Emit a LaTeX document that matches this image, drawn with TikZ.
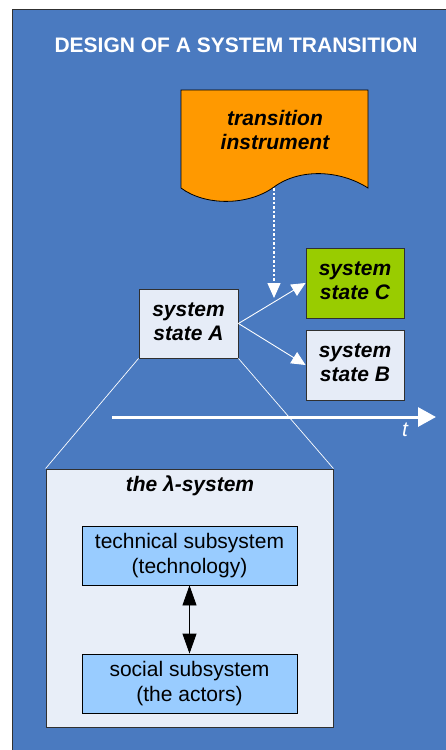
\documentclass[tikz,border=0pt]{standalone}
\usepackage{fontspec}
\setmainfont{Liberation Sans}
\usetikzlibrary{arrows.meta}
\definecolor{panelblue}{HTML}{4A7AC0}
\definecolor{statefill}{HTML}{E6ECF7}
\definecolor{lamfill}{HTML}{E8EEF8}
\definecolor{subfill}{HTML}{99CCFF}
\definecolor{greenfill}{HTML}{99CC00}
\definecolor{orangefill}{HTML}{FF9900}
\definecolor{edgegray}{HTML}{303030}
\begin{document}
\begin{tikzpicture}[x=1pt,y=-1pt,
  statebox/.style={draw=edgegray,line width=0.9pt,fill=statefill,minimum width=99pt,minimum height=69pt,inner sep=0pt,align=center,font=\fontsize{21}{24}\selectfont\bfseries\itshape},
  subbox/.style={draw=black,line width=0.8pt,fill=subfill,minimum width=215pt,minimum height=59pt,inner sep=0pt,align=center,font=\fontsize{21}{25}\selectfont},
  whitearrow/.style={draw=white,line width=0.9pt,-{Triangle[length=14pt,width=13pt]}},
  zoomline/.style={draw=white,line width=0.7pt}
]
\useasboundingbox (0,0) rectangle (446,750);
% panel
\fill[white] (0,0) rectangle (446,750);
\draw[fill=panelblue,draw=edgegray,line width=0.8pt] (12,9) rectangle (470,770);
% title
\node[text=white,font=\fontsize{21}{24}\selectfont\bfseries] (title) at (236,45) {DESIGN OF A SYSTEM TRANSITION};
% document shape
\draw[fill=orangefill,draw=black,line width=0.8pt] (181,90) -- (368,90) -- (368,188)
  .. controls (340,170) and (300,168) .. (274,187)
  .. controls (248,206) and (205,206) .. (181,188) -- cycle;
\node[align=center,font=\fontsize{21}{24}\selectfont\bfseries\itshape] (instr) at (275,130) {transition\\instrument};
\coordinate (docwave) at (274,188);
\coordinate (dottip) at (274,298);
% states
\node[statebox] (A) at (188.5,323.5) {system\\state A\rule[-4pt]{0pt}{0pt}};
\node[statebox,fill=greenfill,minimum width=98pt,minimum height=70pt] (C) at (355,283) {system\\state C\rule[-4pt]{0pt}{0pt}};
\node[statebox,minimum width=98pt,minimum height=70pt] (B) at (355,365) {system\\state B\rule[-4pt]{0pt}{0pt}};
\draw[whitearrow] (A.east) -- (C.west);
\draw[whitearrow] (A.east) -- (B.west);
\draw[draw=white,line width=1.4pt,dash pattern=on 2.5pt off 2pt,-{Triangle[length=15pt,width=13pt,fill=white]}] (docwave) -- (dottip);
% time axis
\coordinate (tstart) at (112,417);
\coordinate (tend) at (436,417);
\draw[draw=white,line width=3pt,-{Triangle[length=18pt,width=19pt]}] (tstart) -- (tend);
\node[text=white,font=\fontsize{21}{24}\selectfont\itshape] (tlabel) at (405,430) {t};
% lambda system
\node[draw=edgegray,line width=0.9pt,fill=lamfill,minimum width=287pt,minimum height=258pt,inner sep=0pt] (lam) at (189.5,598) {};
\draw[zoomline] (A.south west) -- (lam.north west);
\draw[zoomline] (A.south east) -- (lam.north east);
\node[font=\fontsize{21}{24}\selectfont\bfseries\itshape] (lamtitle) at (190,486) {the λ-system};
\node[subbox] (tech) at (189.5,555.5) {technical subsystem\\(technology)};
\node[subbox] (soc) at (189.5,683.5) {social subsystem\\(the actors)};
\draw[draw=black,line width=0.8pt,{Triangle[length=20pt,width=14pt]}-{Triangle[length=20pt,width=14pt]}] (tech.south) -- (soc.north);
\end{tikzpicture}
\end{document}
